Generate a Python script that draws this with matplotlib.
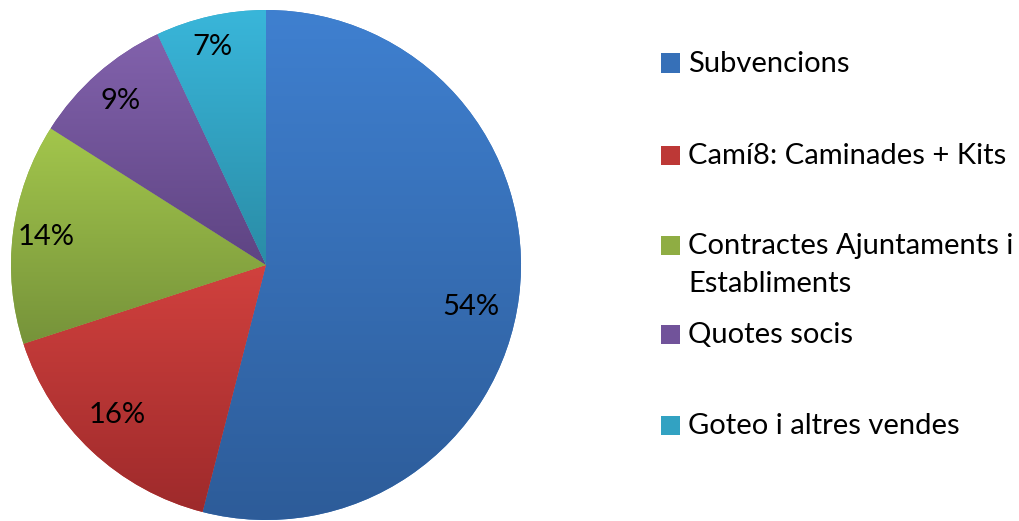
import numpy as np
import matplotlib.pyplot as plt
from matplotlib.colors import LinearSegmentedColormap
from matplotlib.patches import Rectangle

plt.rcParams['font.family'] = ['Lato', 'DejaVu Sans']

# Data
labels = ['Subvencions', 'Camí8: Caminades + Kits', 'Contractes Ajuntaments i\nEstabliments',
          'Quotes socis', 'Goteo i altres vendes']
values = [54, 16, 14, 9, 7]

# Gradient colours (top, bottom) for each slice
top_colors = ['#3f80d0', '#d1413e', '#a3c64c', '#8262ac', '#39b6da']
bottom_colors = ['#2d5c99', '#9e2a2b', '#76933a', '#5e4483', '#2a8ca6']
mid_colors = ['#3670b8', '#bd3836', '#8fad43', '#71539a', '#32a2c2']

# Label placement (Excel "best fit" look): radius fraction and angle nudge
label_dist = [0.82, 0.83, 0.87, 0.86, 0.88]
label_nudge = [-4.4, -1.6, 0.0, 0.0, 1.1]

# Legend layout (figure pixels, from top)
legend_y = [63, 155, 264, 334, 425]

fig = plt.figure(figsize=(10.2, 5.21), dpi=100)
ax = fig.add_axes([11 / 1020, 1 / 521, 510 / 1020, 510 / 521])

wedges, _ = ax.pie(values, colors=mid_colors, startangle=90, counterclock=False)

# Vertical gradient inside every wedge
for w, c_top, c_bot in zip(wedges, top_colors, bottom_colors):
    ang = np.radians(np.linspace(w.theta1, w.theta2, 200))
    ys = np.concatenate([[0], np.sin(ang)])
    xs = np.concatenate([[0], np.cos(ang)])
    cmap = LinearSegmentedColormap.from_list('g', [c_bot, c_top])
    grad = np.linspace(0, 1, 256).reshape(-1, 1)
    im = ax.imshow(grad, cmap=cmap, origin='lower', aspect='auto',
                   extent=[xs.min(), xs.max(), ys.min(), ys.max()], zorder=w.get_zorder() + 0.1)
    im.set_clip_path(w)

# Percent labels
total = sum(values)
for w, v, d, n in zip(wedges, values, label_dist, label_nudge):
    a = np.radians((w.theta1 + w.theta2) / 2 + n)
    ax.text(d * np.cos(a), d * np.sin(a), f'{100 * v / total:.0f}%', fontsize=21,
            ha='center', va='center', zorder=5)

ax.set_xlim(-1, 1)
ax.set_ylim(-1, 1)
ax.set_aspect('equal')
ax.axis('off')

# Legend drawn by hand to match spacing
W, H = 1020, 521
for lab, col, y in zip(labels, mid_colors, legend_y):
    sq_y = y - 19 if '\n' in lab else y
    fig.patches.append(Rectangle((661 / W, 1 - (sq_y + 9.5) / H), 19 / W, 19 / H,
                                 transform=fig.transFigure, facecolor=col, edgecolor='none'))
    fig.text(688 / W, 1 - (y + 1) / H, lab, fontsize=21, va='center',
             ha='left', linespacing=1.55)

fig.savefig('out.png', dpi=100)
